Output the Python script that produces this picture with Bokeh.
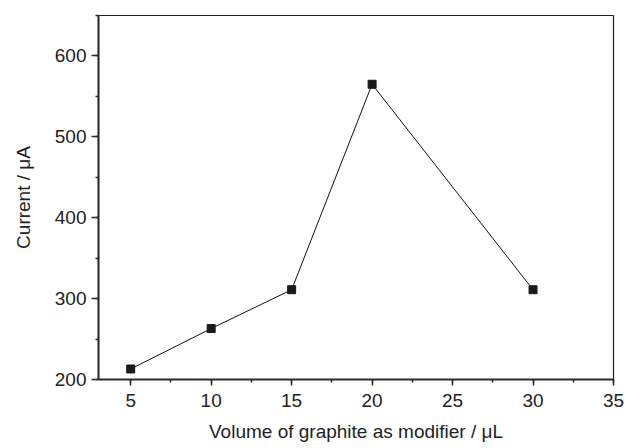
from bokeh.plotting import figure
from bokeh.models import Range1d, SingleIntervalTicker, ColumnDataSource
from bokeh.embed import file_html
from bokeh.resources import INLINE

volume = [5, 10, 15, 20, 30]
current = [213, 263, 311, 565, 311]

x_label = "Volume of graphite as modifier / \u03bcL"
y_label = "Current / \u03bcA"

src = ColumnDataSource(data=dict(x=volume, y=current))

p = figure(width=626, height=448, output_backend="svg", toolbar_location=None,
           x_range=Range1d(3, 35), y_range=Range1d(200, 650),
           min_border_left=98, min_border_right=13, min_border_top=15, min_border_bottom=69)

p.line('x', 'y', source=src, line_color="#111111", line_width=1)
p.scatter('x', 'y', source=src, marker="square", size=8, fill_color="#1a1a1a", line_color="#1a1a1a")

p.xgrid.visible = False
p.ygrid.visible = False
p.outline_line_color = "#222222"
p.outline_line_width = 1.2
p.background_fill_color = "white"
p.border_fill_color = "white"

font = "Liberation Sans"
for ax in (p.xaxis[0], p.yaxis[0]):
    ax.axis_line_width = 2
    ax.axis_line_color = "#2a2a2a"
    ax.major_tick_line_color = "#2a2a2a"
    ax.minor_tick_line_color = "#2a2a2a"
    ax.major_tick_line_width = 1.5
    ax.minor_tick_line_width = 1.5
    ax.major_tick_in = 0
    ax.major_tick_out = 6
    ax.minor_tick_in = 0
    ax.minor_tick_out = 3
    ax.major_label_text_font = font
    ax.major_label_text_font_size = "19px"
    ax.major_label_text_color = "#222222"
    ax.axis_label_text_font = font
    ax.axis_label_text_font_size = "19px"
    ax.axis_label_text_font_style = "normal"
    ax.axis_label_text_color = "#222222"

p.yaxis.major_tick_out = 7
p.xaxis.ticker = SingleIntervalTicker(interval=5, num_minor_ticks=2)
p.yaxis.ticker = SingleIntervalTicker(interval=100, num_minor_ticks=2)
p.xaxis.axis_label = x_label
p.yaxis.axis_label = y_label
p.xaxis.major_label_standoff = 8
p.xaxis.axis_label_standoff = 11
p.yaxis.major_label_standoff = 5
p.yaxis.axis_label_standoff = 18

open("out.html", "w").write(file_html(p, INLINE))
